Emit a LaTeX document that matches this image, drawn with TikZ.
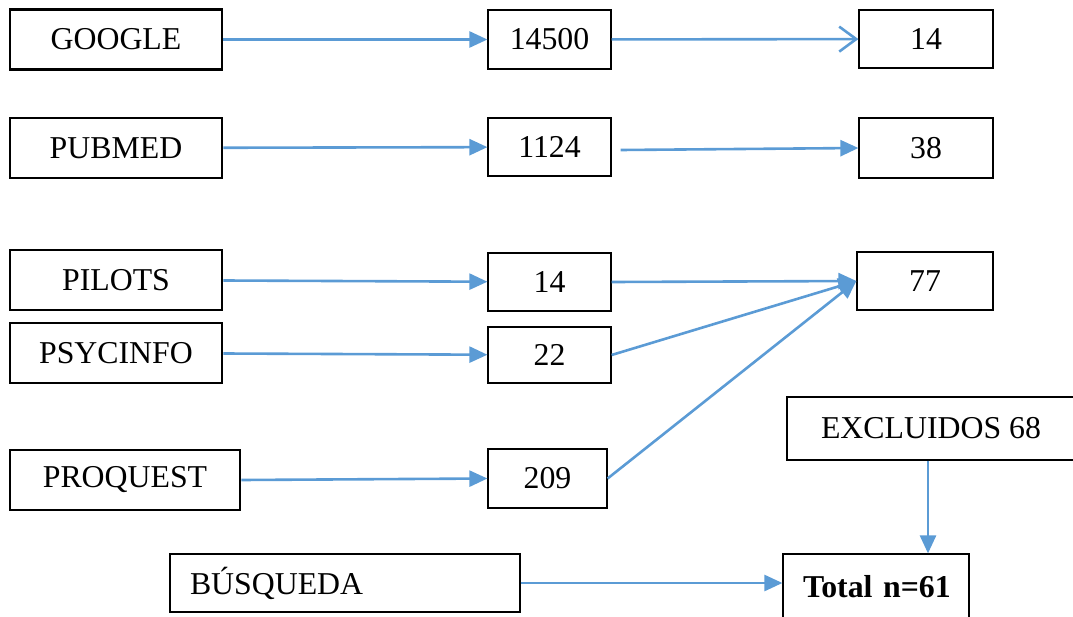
\documentclass[tikz,border=0pt]{standalone}
\usepackage{fontspec}
\setmainfont{Liberation Serif}
\usetikzlibrary{arrows.meta}
\definecolor{flowblue}{HTML}{5B9BD5}

\begin{document}
\begin{tikzpicture}[
  x=1pt, y=-1pt,
  every node/.style={font=\fontsize{31.8}{36}\selectfont, inner sep=0pt},
  base_box/.style={draw, line width=2.6pt, minimum width=212pt, minimum height=60pt},
  num_box/.style={draw, line width=1.2pt},
  left_box/.style={draw, line width=1.2pt, align=left, inner xsep=20pt},
  flow/.style={draw=flowblue, line width=2.6pt, -{Triangle[length=18pt,width=16pt]}},
  open_flow/.style={draw=flowblue, line width=2.6pt, -{Straight Barb[length=17pt,width=25pt]}}
  ]
	\useasboundingbox (0,0) rectangle (1073,616);

	\node[base_box] (google) at (116,39.5) {GOOGLE};
	\node[num_box, minimum width=123pt, minimum height=59pt] (google_a) at (549.5,39.5) {14500};
	\node[num_box, minimum width=134pt, minimum height=58pt] (google_b) at (926,39) {14};

	\node[base_box] (pubmed) at (116,148) {PUBMED};
	\node[num_box, minimum width=123pt, minimum height=58pt] (pubmed_a) at (549.5,147) {1124};
	\node[num_box, minimum width=134pt, minimum height=60pt] (pubmed_b) at (926,148) {38};

	\node[base_box] (pilots) at (116,280) {PILOTS};
	\node[num_box, minimum width=123pt, minimum height=58pt] (pilots_a) at (549.5,282) {14};
	\node[num_box, minimum width=136pt, minimum height=58pt] (joint) at (925,281) {77};

	\node[base_box] (psycinfo) at (116,353) {PSYCINFO};
	\node[num_box, minimum width=123pt, minimum height=56pt] (psycinfo_a) at (549.5,355) {22};

	\node[base_box, minimum width=230pt] (proquest) at (125,480) {PROQUEST};
	\node[num_box, minimum width=119pt, minimum height=59pt] (proquest_a) at (547.5,478.5) {209};

	\node[num_box, minimum width=288pt, minimum height=63pt] (excluded) at (931,428.5) {EXCLUIDOS 68};
	\node[left_box, text width=310pt, minimum height=58pt] (search) at (345,583) {BÚSQUEDA};
	\node[left_box, text width=146pt, minimum height=66pt] (total) at (876,587) {\mbox{\bfseries Total n=61}};

	\draw[flow] (google) -- (google_a);
	\draw[open_flow] (google_a) -- (google_b);

	\draw[flow] (pubmed) -- (pubmed_a);
	\draw[flow] ([xshift=9pt,yshift=-3pt]pubmed_a.east) -- (pubmed_b.west);

	\draw[flow] (pilots) -- (pilots_a);
	\draw[flow] (psycinfo) -- (psycinfo_a);
	\draw[flow] (proquest.east) -- (proquest_a.west);

	\draw[flow] (pilots_a.east) -- (joint.west);
	\draw[flow] (psycinfo_a.east) -- (joint.west);
	\draw[flow] (proquest_a.east) -- (joint.west);

	\draw[flow] (excluded.south -| 928,0) -- (total.north -| 928,0);
	\draw[flow] (search.east) -- (total.west |- search.east);
\end{tikzpicture}
\end{document}
